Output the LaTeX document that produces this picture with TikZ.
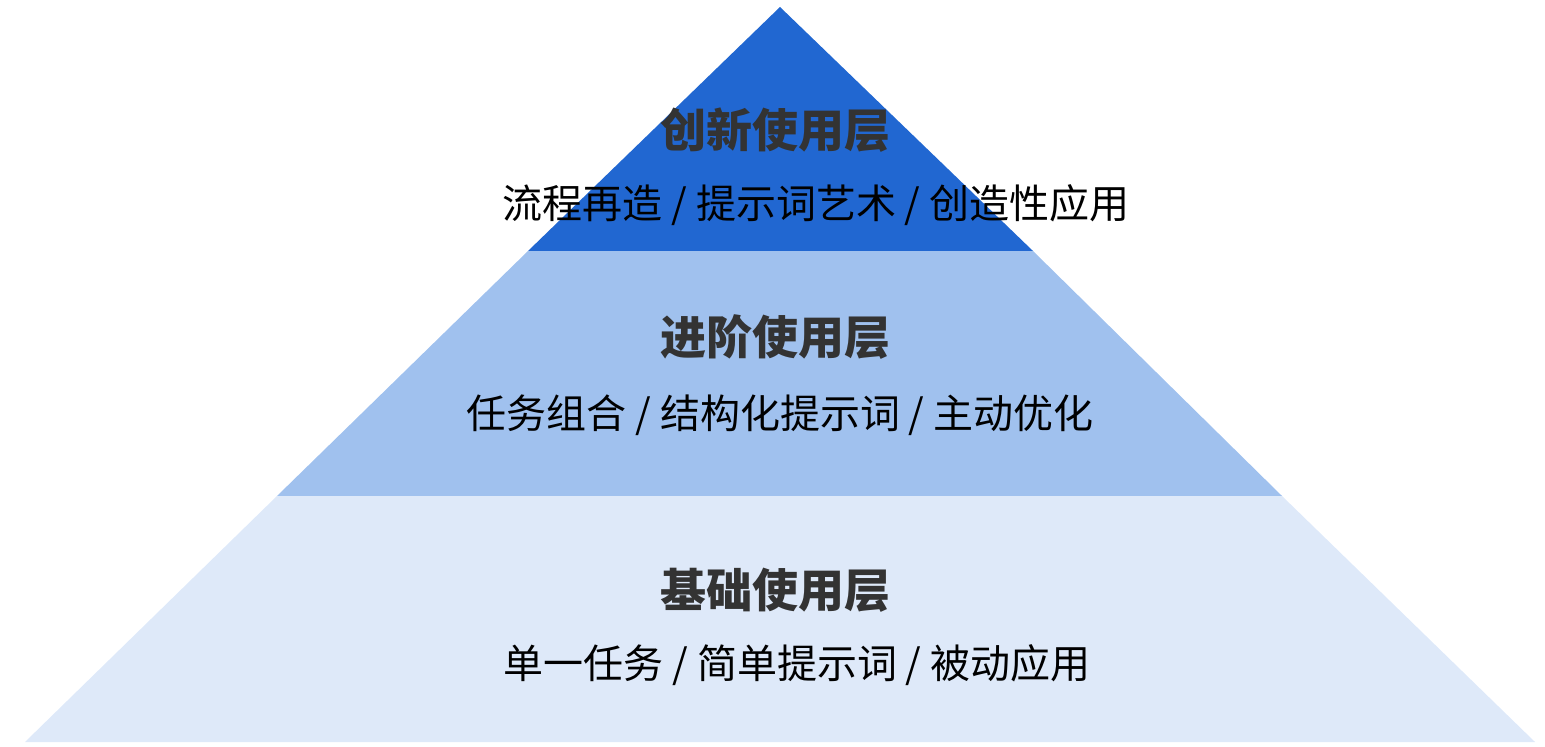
\documentclass[tikz,border=0pt]{standalone}
\usepackage{fontspec}
\newfontfamily\cjk{Noto Sans CJK SC}
\definecolor{ctop}{HTML}{2167D1}
\definecolor{cmid}{HTML}{A0C1EE}
\definecolor{cbot}{HTML}{DEE9F9}
\definecolor{ttl}{HTML}{333333}
\begin{document}
\begin{tikzpicture}[x=0.5pt,y=-0.5pt,
  title/.style={font=\cjk\bfseries\fontsize{23}{26}\selectfont, text=ttl},
  sub/.style={font=\cjk\fontsize{20}{24}\selectfont, text=black}]
\useasboundingbox (0,0) rectangle (1545,747);
\fill[cbot] (277,496) -- (1282,496) -- (1535,742) -- (25,742) -- cycle;
\fill[cmid] (528,251) -- (1033,251) -- (1282,496) -- (277,496) -- cycle;
\fill[ctop] (780,7) -- (1033,251) -- (528,251) -- cycle;
\node[title] (t1) at (775,130) {创新使用层};
\node[sub] (s1) at (816,205) {流程再造 / 提示词艺术 / 创造性应用};
\node[title] (t2) at (775,337) {进阶使用层};
\node[sub] (s2) at (780,415) {任务组合 / 结构化提示词 / 主动优化};
\node[title] (t3) at (775,590) {基础使用层};
\node[sub] (s3) at (797,665) {单一任务 / 简单提示词 / 被动应用};
\end{tikzpicture}
\end{document}
